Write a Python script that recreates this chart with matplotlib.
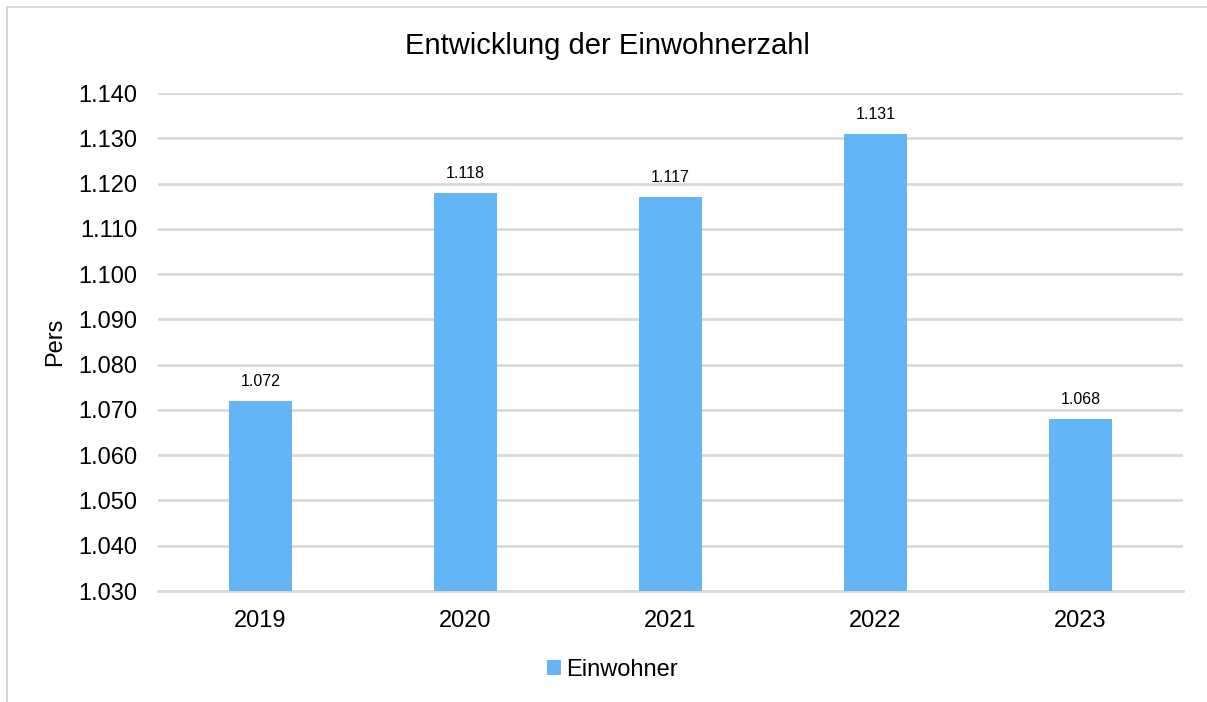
import matplotlib.pyplot as plt
from matplotlib.patches import Rectangle

# data
years = ['2019', '2020', '2021', '2022', '2023']
einwohner = [1072, 1118, 1117, 1131, 1068]
yticks = list(range(1030, 1141, 10))


def de_fmt(v):
    # german thousands separator
    return f"{v:,}".replace(',', '.')


plt.rcParams['font.family'] = ['Liberation Sans', 'DejaVu Sans']

fig = plt.figure(figsize=(12.07, 7.02), dpi=100)
ax = fig.add_axes([158/1207, 1-591/702, (1183-158)/1207, (591-93)/702])

# outer chart border (cropped at right/bottom like the reference)
fig.patches.append(Rectangle((7/1207, -0.1), 1.2, 1-6.5/702+0.1, transform=fig.transFigure,
                             fill=False, edgecolor='#d9d9d9', linewidth=1.5, zorder=0))

x = range(len(years))
bars = ax.bar(x, einwohner, width=0.31, color='#64B5F6', zorder=3, label='Einwohner')

for b, v in zip(bars, einwohner):
    ax.annotate(de_fmt(v), (b.get_x() + b.get_width()/2, v), xytext=(0, 8.5),
                textcoords='offset points', ha='center', va='bottom', fontsize=11.5)

ax.set_ylim(1030, 1140)
ax.set_yticks(yticks)
ax.set_yticklabels([de_fmt(t) for t in yticks], fontsize=17)
ax.set_xticks(list(x))
ax.set_xticklabels(years, fontsize=17)
ax.set_xlim(-0.5, len(years) - 0.5)
ax.tick_params(axis='y', length=0, pad=15)
ax.tick_params(axis='x', length=0, pad=14)

ax.grid(axis='y', color='#d9d9d9', linewidth=2, zorder=0)
for s in ['top', 'right', 'left']:
    ax.spines[s].set_visible(False)
ax.spines['bottom'].set_color('#d9d9d9')
ax.spines['bottom'].set_linewidth(2)

ax.set_ylabel('Pers', fontsize=17)
ax.yaxis.set_label_coords((66-158)/1025, 0.5)

fig.text(607/1207, 1-46/702, 'Entwicklung der Einwohnerzahl', ha='center', va='center', fontsize=21)

fig.legend(loc='center', bbox_to_anchor=(612/1207, 1-670/702), frameon=False, fontsize=17,
           handlelength=0.6, handleheight=0.6, handletextpad=0.2)

fig.savefig('out.png', dpi=100)
